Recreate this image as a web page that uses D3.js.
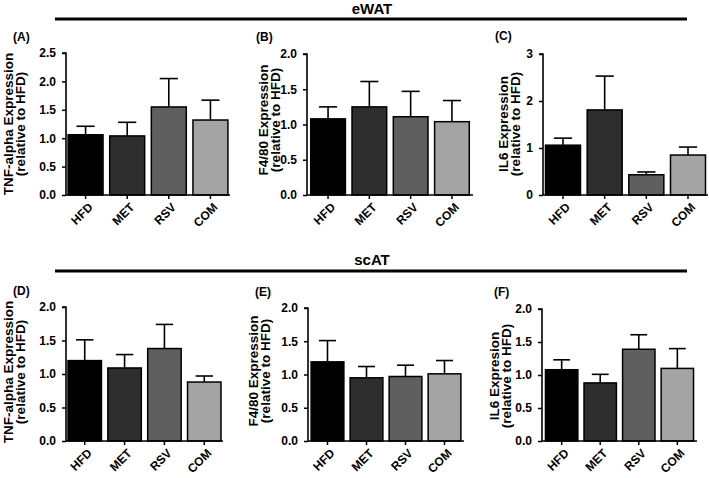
<!DOCTYPE html>
<html><head><meta charset="utf-8">
<script src="https://cdn.jsdelivr.net/npm/d3@7"></script>
<style>
html,body{margin:0;padding:0;background:#fff;}
text{font-family:"Liberation Sans",Arial,Helvetica,sans-serif;font-weight:bold;fill:#000;}
</style></head>
<body><svg id="chart" width="709" height="478"></svg>
<script>
// ---- data ----
const groups = ["HFD", "MET", "RSV", "COM"];
const groupColors = ["#000000", "#2e2e2e", "#5f5f5f", "#a4a4a4"];
const sectionTitles = ["eWAT", "scAT"];
const panelLetters = ["(A)", "(B)", "(C)", "(D)", "(E)", "(F)"];
const yLabelLine1 = ["TNF-alpha Expression", "F4/80 Expression", "IL6 Expression",
                     "TNF-alpha Expression", "F4/80 Expression", "IL6 Expresion"];
const yLabelLine2 = "(relative to HFD)";
const yMax = [2.5, 2.0, 3, 2.0, 2.0, 2.0];
const yTickStep = [0.5, 0.5, 1, 0.5, 0.5, 0.5];
const meanA = [1.06, 1.04, 1.55, 1.32], semA = [0.15, 0.24, 0.50, 0.35];
const meanB = [1.08, 1.25, 1.11, 1.04], semB = [0.17, 0.36, 0.36, 0.30];
const meanC = [1.06, 1.81, 0.43, 0.85], semC = [0.15, 0.72, 0.06, 0.17];
const meanD = [1.20, 1.09, 1.38, 0.88], semD = [0.31, 0.20, 0.36, 0.09];
const meanE = [1.19, 0.95, 0.97, 1.01], semE = [0.32, 0.17, 0.17, 0.20];
const meanF = [1.08, 0.88, 1.39, 1.10], semF = [0.15, 0.13, 0.22, 0.30];
const means = [meanA, meanB, meanC, meanD, meanE, meanF];
const sems = [semA, semB, semC, semD, semE, semF];

// ---- layout ----
const layout = [
  {x0: 66,  x1: 230, y0: 195, y1: 53,  po: 0.05, lx: 13,  ly: 37,  l1x: 13,  l2x: 25,  lc: 124},
  {x0: 307, x1: 473, y0: 195, y1: 54,  po: 0.09, lx: 256, ly: 37,  l1x: 268, l2x: 280, lc: 120},
  {x0: 543, x1: 708, y0: 195, y1: 54,  po: 0.06, lx: 495, ly: 36,  l1x: 508, l2x: 520, lc: 124},
  {x0: 66,  x1: 223, y0: 441, y1: 307, po: 0.05, lx: 13,  ly: 291, l1x: 13,  l2x: 25,  lc: 372},
  {x0: 308, x1: 464, y0: 441, y1: 308, po: 0.08, lx: 255, ly: 292, l1x: 258, l2x: 270, lc: 371},
  {x0: 542, x1: 697, y0: 441, y1: 309, po: 0.09, lx: 494, ly: 292, l1x: 499, l2x: 511, lc: 376}
];
const sectionLayout = [{ty: 14, ly: 19}, {ty: 265, ly: 271}];

const svg = d3.select("#chart");

sectionTitles.forEach((t, i) => {
  const s = sectionLayout[i];
  svg.append("text").attr("x", 372).attr("y", s.ty).attr("text-anchor", "middle")
    .style("font-size", "15px").text(t);
  svg.append("line").attr("x1", 55).attr("x2", 687).attr("y1", s.ly).attr("y2", s.ly)
    .attr("stroke", "#000").attr("stroke-width", 2.8);
});

layout.forEach((L, p) => {
  const g = svg.append("g");
  const x = d3.scaleBand().domain(groups).range([L.x0, L.x1]).paddingInner(0.16).paddingOuter(L.po);
  const y = d3.scaleLinear().domain([0, yMax[p]]).range([L.y0, L.y1]);
  const ticks = d3.range(0, yMax[p] + 1e-9, yTickStep[p]);
  const fmt = yTickStep[p] >= 1 ? d3.format("d") : d3.format(".1f");

  const data = groups.map((k, i) => ({k, m: means[p][i], s: sems[p][i], c: groupColors[i]}));
  const bw = x.bandwidth();
  // error bars (upper only)
  g.selectAll(".err").data(data).enter().append("line")
    .attr("x1", d => x(d.k) + bw / 2).attr("x2", d => x(d.k) + bw / 2)
    .attr("y1", d => y(d.m)).attr("y2", d => y(d.m + d.s))
    .attr("stroke", "#000").attr("stroke-width", 1.6);
  g.selectAll(".cap").data(data).enter().append("line")
    .attr("x1", d => x(d.k) + bw / 2 - bw * 0.26).attr("x2", d => x(d.k) + bw / 2 + bw * 0.26)
    .attr("y1", d => y(d.m + d.s)).attr("y2", d => y(d.m + d.s))
    .attr("stroke", "#000").attr("stroke-width", 1.6);
  g.selectAll(".bar").data(data).enter().append("rect")
    .attr("x", d => x(d.k)).attr("width", bw)
    .attr("y", d => y(d.m)).attr("height", d => y(0) - y(d.m))
    .attr("fill", d => d.c).attr("stroke", "#000").attr("stroke-width", 1.5);

  // y axis
  const ya = g.append("g").attr("transform", `translate(${L.x0},0)`)
    .call(d3.axisLeft(y).tickValues(ticks).tickFormat(fmt).tickSize(4).tickPadding(6));
  ya.select(".domain").attr("stroke-width", 1.6).attr("d", `M-4,${L.y1}H0V${L.y0}`);
  ya.selectAll(".tick line").attr("stroke-width", 1.5);
  ya.selectAll("text").style("font-size", "12px").style("font-family", null);

  // x axis
  const xa = g.append("g").attr("transform", `translate(0,${L.y0})`)
    .call(d3.axisBottom(x).tickSize(4).tickSizeOuter(0));
  xa.select(".domain").attr("stroke-width", 1.6).attr("d", `M${L.x0},0H${L.x1}`);
  xa.selectAll(".tick line").attr("stroke-width", 1.5);
  xa.selectAll("text").style("font-size", "12px").style("font-family", null)
    .attr("text-anchor", "end").attr("dy", "0.35em").attr("y", 0).attr("x", 0)
    .attr("transform", "translate(5,10) rotate(-45)");

  // y label
  const lab = g.append("text").attr("text-anchor", "middle")
    .attr("transform", `translate(${L.l1x},${L.lc}) rotate(-90)`).style("font-size", "13.5px");
  lab.append("tspan").attr("x", 0).attr("y", 0).text(yLabelLine1[p]);
  lab.append("tspan").attr("x", 0).attr("y", L.l2x - L.l1x).text(yLabelLine2);

  // panel letter
  g.append("text").attr("x", L.lx).attr("y", L.ly + 4).style("font-size", "12px").text(panelLetters[p]);
});
</script></body></html>
